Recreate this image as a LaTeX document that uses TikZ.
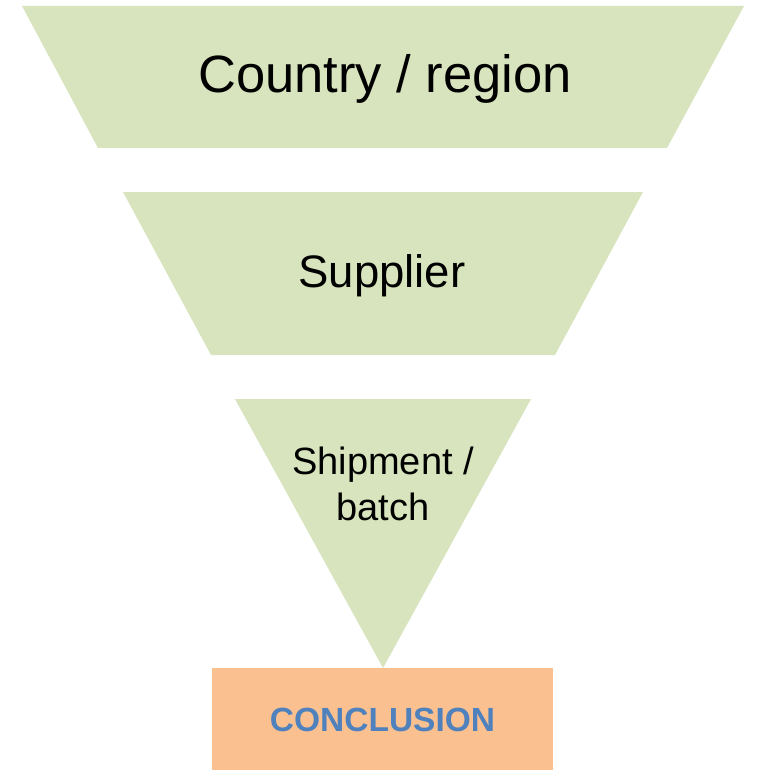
\documentclass[tikz,border=0pt]{standalone}
\usepackage{fontspec}
\setmainfont{Liberation Sans}
\usepackage{tikz}
\usetikzlibrary{positioning}
\definecolor{funnelgreen}{HTML}{D7E4BD}
\definecolor{concorange}{HTML}{FAC090}
\definecolor{concblue}{HTML}{4F81BD}
\tikzset{
  level/.style={fill=funnelgreen},
  leveltext/.style={text=black, align=center, anchor=base, inner sep=0pt}
}
\begin{document}
\begin{tikzpicture}[x=1pt,y=-1pt]
  \useasboundingbox (0,0) rectangle (757,770);

  \fill[level] (22,6)--(744,6)--(667,148)--(98,148)--cycle;
  \fill[level] (123,192)--(643,192)--(555,355)--(211,355)--cycle;
  \fill[level] (235,399)--(531,399)--(383,668)--cycle;

  \node[leveltext, font=\fontsize{52.5}{60}\selectfont] (country) at (385,93) {Country / region};
  \node[leveltext, font=\fontsize{45.5}{52}\selectfont] (supplier) at (382,287) {Supplier};
  \node[leveltext, font=\fontsize{38}{46}\selectfont] (shipment) at (383,520) {Shipment /\\batch};

  \node[fill=concorange, minimum width=341pt, minimum height=102pt, inner sep=0pt] (conclusion) at (382.5,719) {};
  \node[anchor=base, inner sep=0pt, text=concblue, font=\fontsize{33.5}{40}\selectfont\bfseries] (conclabel) at (conclusion.center |- 0,731) {CONCLUSION};
\end{tikzpicture}
\end{document}
